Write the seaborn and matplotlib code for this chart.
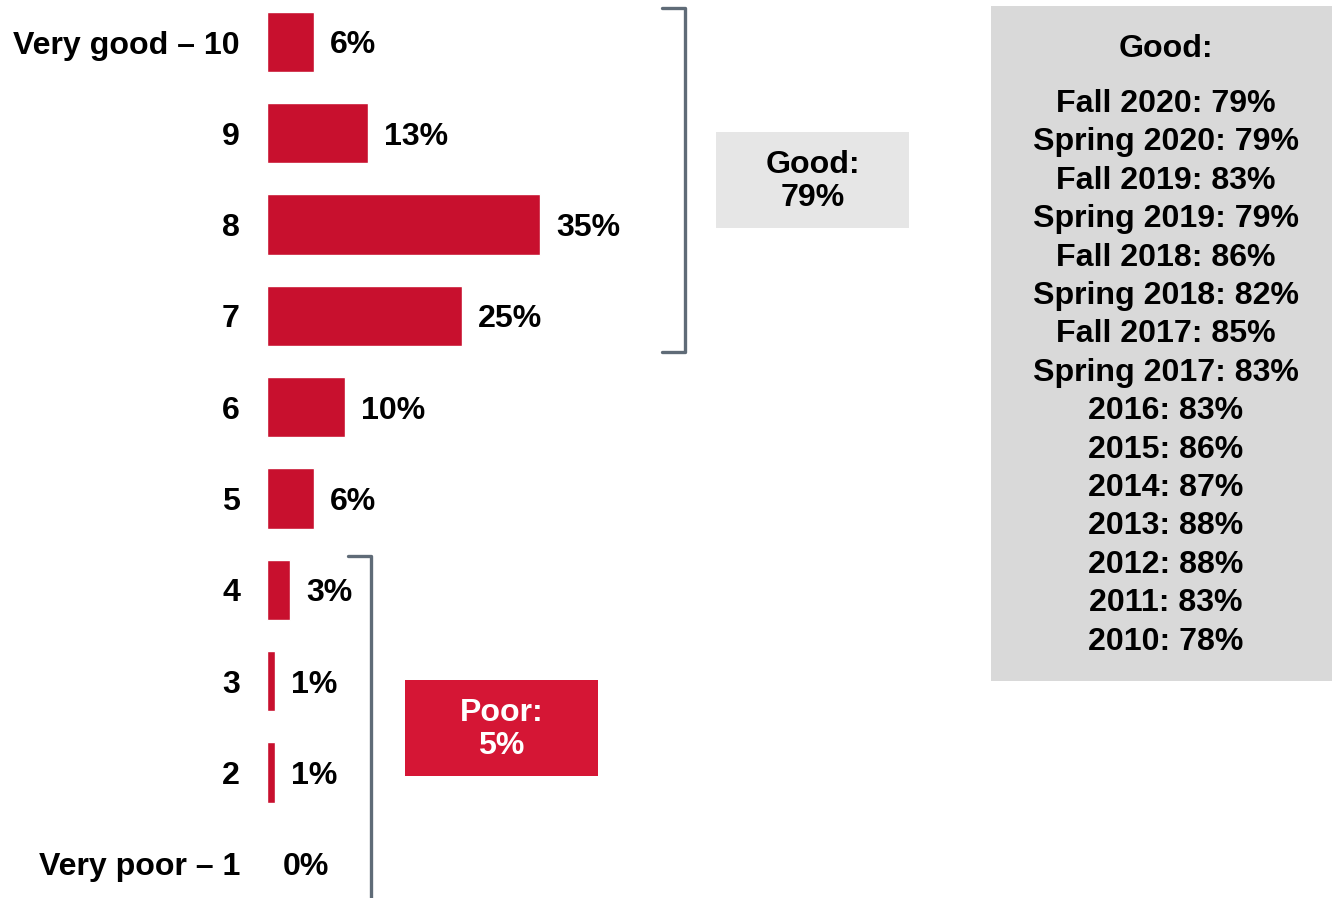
import matplotlib.pyplot as plt
import seaborn as sns
from matplotlib.patches import Rectangle

# ratings distribution
ratings = ["Very good – 10", "9", "8", "7", "6", "5", "4", "3", "2", "Very poor – 1"]
shares = [6, 13, 35, 25, 10, 6, 3, 1, 1, 0]

# summary boxes
good_share = 79
poor_share = 5

# trend panel
trend_labels = [
    "Fall 2020", "Spring 2020", "Fall 2019", "Spring 2019", "Fall 2018",
    "Spring 2018", "Fall 2017", "Spring 2017", "2016", "2015", "2014",
    "2013", "2012", "2011", "2010",
]
trend_good = [79, 79, 83, 79, 86, 82, 85, 83, 83, 86, 87, 88, 88, 83, 78]

RED = "#C8102E"
POOR_RED = "#D51635"
BRACKET = "#5F6B77"
FS = 23.1

W, H = 1332, 898
PX_PER_PCT = 7.8
LEFT = 267


def fx(px):
    return px / W


def fy(py):
    return 1 - py / H


sns.set_theme(style="white")
plt.rcParams["font.family"] = ["Liberation Sans", "DejaVu Sans"]
plt.rcParams["font.weight"] = "bold"
plt.rcParams["text.color"] = "black"
plt.rcParams["ytick.color"] = "black"
plt.rcParams["ytick.labelcolor"] = "black"

fig = plt.figure(figsize=(W / 100, H / 100), dpi=100)
ax = fig.add_axes([fx(LEFT), 0, 1 - fx(LEFT), 1])

sns.barplot(x=shares, y=ratings, orient="h", color=RED, saturation=1,
            width=0.66, ax=ax)
labels = ax.bar_label(ax.containers[0], labels=[f"{v}%" for v in shares],
                      padding=11.5, fontsize=FS, fontweight="bold",
                      color="black")
for t in labels:
    # nudge value labels a little lower, like the original
    t.xyann = (11.5, -2.5)

ax.set_xlim(0, (W - LEFT) / PX_PER_PCT)
ax.set_ylim(9.375, -0.46)
sns.despine(ax=ax, left=True, bottom=True)
ax.set_xticks([])
ax.set_xlabel("")
ax.set_ylabel("")
ax.tick_params(axis="y", length=0, pad=19.5, labelsize=FS, labelcolor="black")
for lab in ax.get_yticklabels():
    lab.set_fontweight("bold")

# brackets
ax.plot([50.6, 53.6, 53.6, 50.6], [-0.37, -0.37, 3.40, 3.40], color=BRACKET,
        lw=2.4, solid_joinstyle="round", clip_on=False)
ax.plot([10.4, 13.3, 13.3], [5.63, 5.63, 9.6], color=BRACKET,
        lw=2.4, solid_joinstyle="round", clip_on=False)

# summary boxes
ax.add_patch(Rectangle((57.6, 0.985), 24.7, 1.05, facecolor="#E6E6E6",
                       edgecolor="none"))
ax.text(57.6 + 24.7 / 2, 1.53, f"Good:\n{good_share}%", ha="center",
        va="center", fontsize=FS, fontweight="bold", linespacing=1.12)
ax.add_patch(Rectangle((17.7, 6.99), 24.7, 1.05, facecolor=POOR_RED,
                       edgecolor="none"))
ax.text(17.7 + 24.7 / 2, 7.53, f"Poor:\n{poor_share}%", ha="center",
        va="center", fontsize=FS, fontweight="bold", color="white",
        linespacing=1.12)

# trend panel
fig.patches.append(Rectangle((fx(991), fy(681)), fx(341), 675 / H,
                             transform=fig.transFigure, facecolor="#D9D9D9",
                             edgecolor="none", zorder=0))
cx = fx(1166)
fig.text(cx, fy(49), "Good:", ha="center", va="center", fontsize=FS,
         fontweight="bold")
for i, (lab, val) in enumerate(zip(trend_labels, trend_good)):
    fig.text(cx, fy(104 + 38.4 * i), f"{lab}: {val}%", ha="center",
             va="center", fontsize=FS, fontweight="bold")

fig.savefig("out.png", dpi=100)
